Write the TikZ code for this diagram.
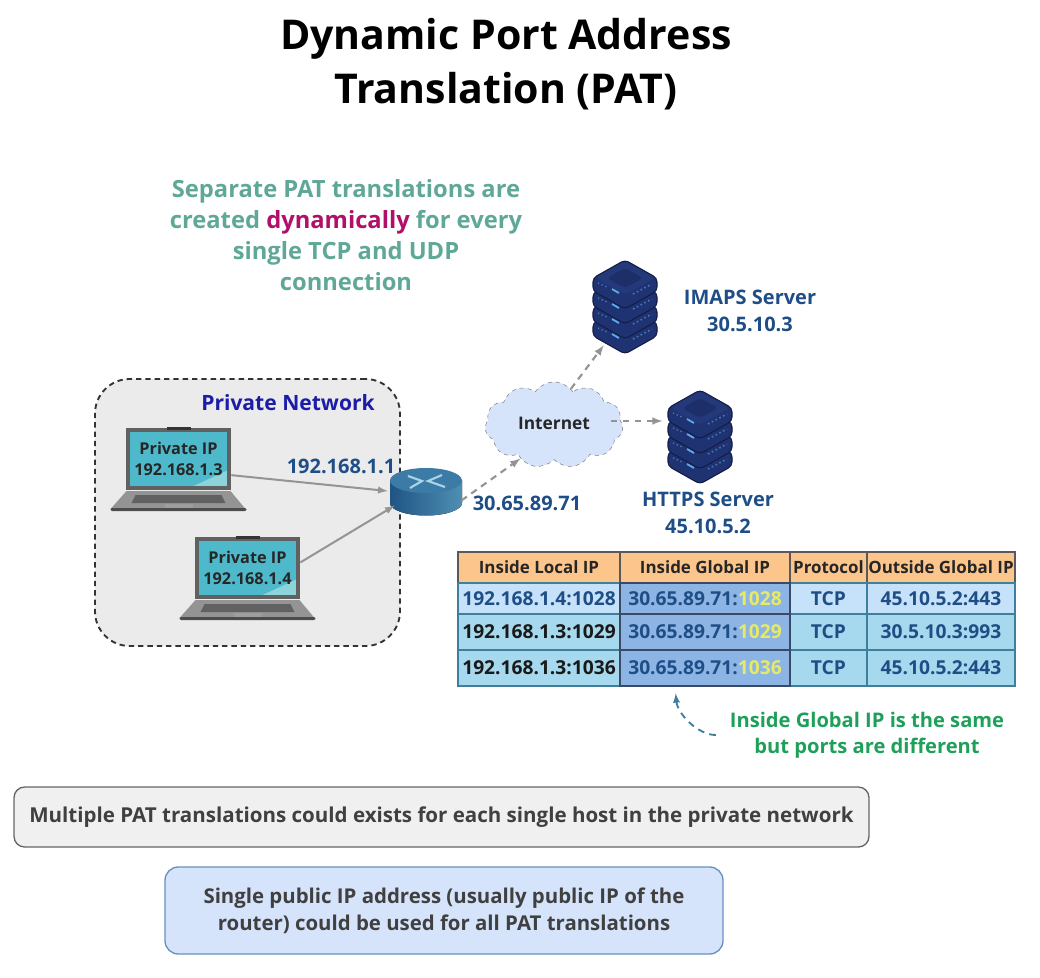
\documentclass[tikz,border=0pt]{standalone}
\usepackage{fontspec}
\setmainfont{Open Sans}
\usetikzlibrary{shapes.geometric,shapes.symbols}

\definecolor{darktext}{HTML}{1F4E86}
\definecolor{notegreen}{HTML}{1FA05A}
\definecolor{descgreen}{HTML}{5FA898}
\definecolor{dynpink}{HTML}{B0106A}
\definecolor{privblue}{HTML}{1C1CA8}
\definecolor{headfill}{HTML}{FCC58C}
\definecolor{rowlight}{HTML}{C6E2FB}
\definecolor{rowmid}{HTML}{A6D8EE}
\definecolor{colglobal}{HTML}{8CB4E4}
\definecolor{cellline}{HTML}{3F7F9C}
\definecolor{globalline}{HTML}{3A4A66}
\definecolor{portyellow}{HTML}{E6EA66}
\definecolor{srvedge}{HTML}{131D47}
\definecolor{srvface}{HTML}{1F3272}
\definecolor{srvtop}{HTML}{24397A}
\definecolor{srvinner}{HTML}{1D2E68}
\definecolor{srvled}{HTML}{5AA9E6}
\definecolor{screendark}{HTML}{4DB9CA}
\definecolor{screenlight}{HTML}{8CD3DA}
\definecolor{routertop}{HTML}{3B7BA6}
\definecolor{routerleft}{HTML}{1F5485}
\definecolor{routerright}{HTML}{4F8FB2}
\definecolor{routermark}{HTML}{A9D3E6}
\definecolor{paleblue}{HTML}{D6E4FB}
\definecolor{boxblue}{HTML}{6A8FC0}

\tikzset{
    label18/.style={font=\bfseries\fontsize{15}{20}\selectfont, text=darktext, align=center},
    tablecell/.style={draw=cellline, line width=1pt, font=\bfseries\fontsize{14.4}{16}\selectfont, text=darktext, inner sep=0pt, minimum height=#1*0.75pt},
    screen/.style={draw=black!62, line width=3.5pt, fill=screendark, minimum width=101*0.75pt, minimum height=58*0.75pt, inner sep=0pt, align=center,
        font=\bfseries\fontsize{12.2}{16}\selectfont, text=black!85,
        path picture={\fill[screenlight] ([xshift=8pt]path picture bounding box.south) -- (path picture bounding box.south east) -- ([yshift=-8pt]path picture bounding box.east) -- cycle;}},
    flow/.style={draw=black!42, line width=1.5pt, ->},
    dashflow/.style={draw=black!42, line width=1.6pt, dash pattern=on 5pt off 4pt, ->},
    laptopbase/.pic={
        \fill[black!42] (-52,31) -- (52,31) -- (67,49) -- (-68,49) -- cycle;
        \fill[black!62] (-43,35) -- (43,35) -- (47,43) -- (-47,43) -- cycle;
        \fill[black!38] (-14,44) rectangle (14,49);
        \fill[black!70, rounded corners=1pt] (-68,48) rectangle (68,51);
        \fill[black!80] (-12,-33) rectangle (12,-30);
    },
    serverstack/.pic={
        \foreach \k in {3,2,1,0}{
            \filldraw[fill=srvface, draw=srvedge, line width=0.8pt, rounded corners=3pt] (-32,{\k*15}) -- (0,{\k*15-18}) -- (32,{\k*15}) -- (32,{\k*15+13}) -- (0,{\k*15+31}) -- (-32,{\k*15+13}) -- cycle;
            \draw[srvled, line width=1.4pt] (-13,{\k*15+11}) -- (-6,{\k*15+15});
            \draw[srvled!60!srvface, line width=1pt, dotted] (-27,{\k*15+5}) -- (-18,{\k*15+9});
            \draw[srvled!60!srvface, line width=1.2pt, dotted] (8,{\k*15+16}) -- (27,{\k*15+6});
        }
        \fill[srvtop, rounded corners=4pt] (-30,0) -- (0,-17) -- (30,0) -- (0,17) -- cycle;
        \fill[srvinner, rounded corners=3pt] (-18,0) -- (0,-10) -- (18,0) -- (0,10) -- cycle;
    },
    routerbody/.pic={
        \fill[left color=routerleft, right color=routerright] (-36,-10.5) -- (-36,12) arc[start angle=180, end angle=0, x radius=36, y radius=12.5] -- (36,-10.5) -- cycle;
        \fill[routertop] (0,-10.5) ellipse[x radius=36, y radius=12.5];
        \draw[routermark, line width=1.6pt] (-18,-15) -- (-4,-10) -- (-16,-3) (16,-16) -- (2,-10) -- (19,-4);
    },
}

\begin{document}
\begin{tikzpicture}[x=0.75pt,y=-0.75pt,>=latex]
    \useasboundingbox (0,0) rectangle (1040,978);
    % Title and description
    \node[font=\bfseries\fontsize{30.8}{41}\selectfont, align=center] (title) at (506,64) {Dynamic Port Address\\Translation (PAT)};
    \node[font=\bfseries\fontsize{17.8}{23.25}\selectfont, text=descgreen, align=center] (desc) at (346,235) {Separate PAT translations are\\created {\color{dynpink}dynamically} for every\\single TCP and UDP\\connection};
    % Private network area
    \node[draw=black!80, fill=black!8, dash pattern=on 4pt off 3pt, line width=1.4pt, rounded corners=26pt, minimum width=305*0.75pt, minimum height=267*0.75pt] (privnet) at (247.5,512.5) {};
    \node[font=\bfseries\fontsize{15.8}{20}\selectfont, text=privblue] (privlabel) at (288,403) {Private Network};
    % Laptops
    \node[screen] (hosta) at (178.5,459) {Private IP\\192.168.1.3};
    \node[screen] (hostb) at (247.5,568) {Private IP\\192.168.1.4};
    \pic at (178.5,460) {laptopbase};
    \pic at (247.5,569) {laptopbase};
    % Router
    \node[ellipse, minimum width=76*0.75pt, minimum height=50*0.75pt, inner sep=0pt] (router) at (426,491) {};
    \pic at (426,491) {routerbody};
    \node[label18] (lanip) at (341,466) {192.168.1.1};
    \node[label18] (wanip) at (527,503) {30.65.89.71};
    % Internet cloud
    \node[cloud, cloud puffs=11, cloud puff arc=110, aspect=1.6, draw=black!50, dashed, fill=paleblue, minimum width=138*0.75pt, minimum height=86*0.75pt, inner sep=0pt, font=\bfseries\fontsize{13}{16}\selectfont, text=black!85] (cloud) at (554,425) {\raisebox{3pt}{Internet}};
    % Servers
    \node[minimum width=64*0.75pt, minimum height=76*0.75pt, inner sep=0pt] (imaps) at (625,307) {};
    \node[minimum width=64*0.75pt, minimum height=62*0.75pt, inner sep=0pt] (https) at (700,421) {};
    \pic at (625,278) {serverstack};
    \pic at (700,408) {serverstack};
    \node[label18] (imapslabel) at (750,311) {IMAPS Server\\30.5.10.3};
    \node[label18] (httpslabel) at (708,513) {HTTPS Server\\45.10.5.2};
    % Connections
    \draw[flow] (hosta.-17) -- (router.west);
    \draw[flow] (hostb.6) -- (router.205);
    \draw[dashflow] (router.-15) -- (cloud.225);
    \draw[dashflow] (cloud.65) -- (imaps.-119);
    \draw[dashflow, shorten <=-9pt, shorten >=4pt] (cloud.east |- https.west) -- (https.west);
    % Table header
    \foreach \nm/\cx/\colw/\txt in {heada/539/162/Inside Local IP, headb/705/170/Inside Global IP, headc/828.5/77/Protocol, headd/941/148/Outside Global IP}
        \node[tablecell=31, draw=black!65, fill=headfill, text=black!85, font=\bfseries\fontsize{12.7}{16}\selectfont, minimum width=\colw*0.75pt] (\nm) at (\cx,567.5) {\txt};
    % Table rows
    \foreach \nm/\cy/\rowh/\fillc/\txtc/\loc/\port/\remote in {rowa/598.5/31/rowlight/darktext/192.168.1.4:1028/1028/45.10.5.2:443, rowb/632/36/rowmid/black!90/192.168.1.3:1029/1029/30.5.10.3:993, rowc/668/36/rowmid/black!90/192.168.1.3:1036/1036/45.10.5.2:443} {
        \node[tablecell=\rowh, fill=\fillc, text=\txtc, minimum width=162*0.75pt] (\nm a) at (539,\cy) {\loc};
        \node[tablecell=\rowh, fill=\fillc, minimum width=77*0.75pt] (\nm c) at (828.5,\cy) {TCP};
        \node[tablecell=\rowh, fill=\fillc, minimum width=148*0.75pt] (\nm d) at (941,\cy) {\remote};
        \node[tablecell=\rowh, draw=globalline, fill=colglobal, minimum width=170*0.75pt] (\nm b) at (705,\cy) {30.65.89.71:{\color{portyellow}\port}};
    }
    % Note below the table
    \node[font=\bfseries\fontsize{15.1}{19.5}\selectfont, text=notegreen, align=center] (note) at (867,735) {Inside Global IP is the same\\but ports are different};
    \draw[cellline, dash pattern=on 5pt off 4pt, line width=1.4pt, shorten <=7pt, shorten >=5pt, ->] (note.west) to[out=180, in=-85] (rowcb.212);
    % Bottom boxes
    \node[draw=black!60, fill=black!6, line width=1pt, rounded corners=8pt, minimum width=855*0.75pt, minimum height=60*0.75pt, font=\bfseries\fontsize{15.4}{20}\selectfont, text=black!75] (hostbox) at (441.5,817) {Multiple PAT translations could exists for each single host in the private network};
    \node[draw=boxblue, fill=paleblue, line width=1pt, rounded corners=10pt, minimum width=558*0.75pt, minimum height=87*0.75pt, align=center, font=\bfseries\fontsize{15.3}{20}\selectfont, text=black!75] (pubbox) at (444,910.5) {Single public IP address (usually public IP of the\\router) could be used for all PAT translations};
\end{tikzpicture}
\end{document}
